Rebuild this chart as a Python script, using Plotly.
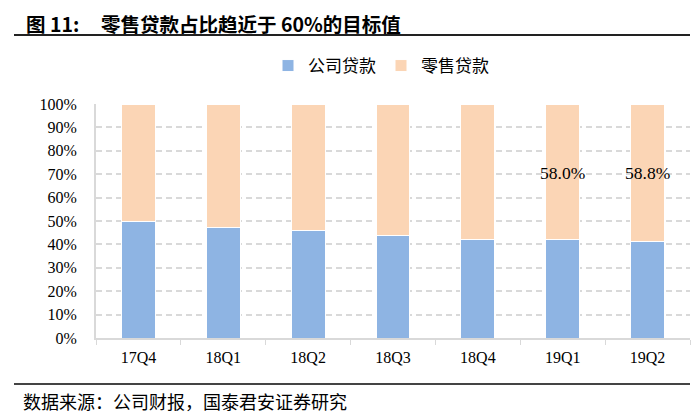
import plotly.graph_objects as go

categories = ["17Q4", "18Q1", "18Q2", "18Q3", "18Q4", "19Q1", "19Q2"]
corporate = [0.500, 0.474, 0.459, 0.437, 0.423, 0.420, 0.412]
retail = [round(1 - v, 3) for v in corporate]
label_cats = ["19Q1", "19Q2"]
label_texts = ["58.0%", "58.8%"]
label_y = [0.705, 0.705]

BLUE = "#8EB4E3"
ORANGE = "#FBD5B5"
GRID = "#D9D9D9"
SERIF = "Liberation Serif, Times New Roman, serif"
CJK = "Noto Sans CJK SC"

OFF = 8  # page body margin offset
W, H = 700 - OFF, 420 - OFF
L, T = 96 - OFF, 104 - OFF
R = 700 - 690
B = 420 - 338
pw, ph = W - L - R, H - T - B

def px(x):
    return (x - OFF - L) / pw

def py(y):
    return (H - B - (y - OFF)) / ph

fig = go.Figure()
fig.add_bar(x=categories, y=corporate, name="公司贷款",
            marker=dict(color=BLUE, line=dict(color="white", width=1)), width=0.4)
fig.add_bar(x=categories, y=retail, name="零售贷款",
            marker=dict(color=ORANGE, line=dict(color="white", width=1)), width=0.4)

for c, t, yv in zip(label_cats, label_texts, label_y):
    fig.add_annotation(x=c, y=yv, text=t, showarrow=False, xref="x", yref="y",
                       font=dict(family=SERIF, size=17.5, color="#000"))

fig.add_annotation(x=px(24), y=py(23.5), xref="paper", yref="paper", xanchor="left", yanchor="middle",
                   text="<b>图 11:</b>", showarrow=False,
                   font=dict(family=CJK, size=19.5, color="#000"))
fig.add_annotation(x=px(99), y=py(23.5), xref="paper", yref="paper", xanchor="left", yanchor="middle",
                   text="<b>零售贷款占比趋近于 60%的目标值</b>", showarrow=False,
                   font=dict(family=CJK, size=19.5, color="#000"))
fig.add_annotation(x=px(21), y=py(401), xref="paper", yref="paper", xanchor="left", yanchor="middle",
                   text="数据来源：公司财报，国泰君安证券研究", showarrow=False,
                   font=dict(family=CJK, size=18, color="#000"))
fig.add_shape(type="line", xref="paper", yref="paper", x0=px(14), x1=px(690), y0=py(35), y1=py(35),
              line=dict(color="#222", width=2))
fig.add_shape(type="line", xref="paper", yref="paper", x0=px(14), x1=px(690), y0=py(384), y1=py(384),
              line=dict(color="#444", width=2))

fig.update_layout(
    width=W, height=H, barmode="stack", bargap=0.55,
    margin=dict(l=L, r=R, t=T, b=B),
    plot_bgcolor="white", paper_bgcolor="white",
    legend=dict(orientation="h", x=px(381), y=py(66), xanchor="center", yanchor="middle",
                font=dict(family=CJK, size=17, color="#000"), itemwidth=30, traceorder="normal"),
    xaxis=dict(showline=True, linecolor=GRID, linewidth=1.5, ticks="outside", tickson="boundaries",
               tickcolor=GRID, ticklen=5, tickfont=dict(family=SERIF, size=16, color="#000"),
               showgrid=False, ticklabelstandoff=4),
    yaxis=dict(range=[0, 1], dtick=0.1, tickformat=".0%", showline=True, linecolor=GRID, linewidth=2,
               showgrid=True, gridcolor=GRID, griddash="6px,4px", gridwidth=1.5, zeroline=False,
               tickfont=dict(family=SERIF, size=16, color="#000"), ticks="", ticklabelstandoff=14),
)
fig.write_html("out.html")
